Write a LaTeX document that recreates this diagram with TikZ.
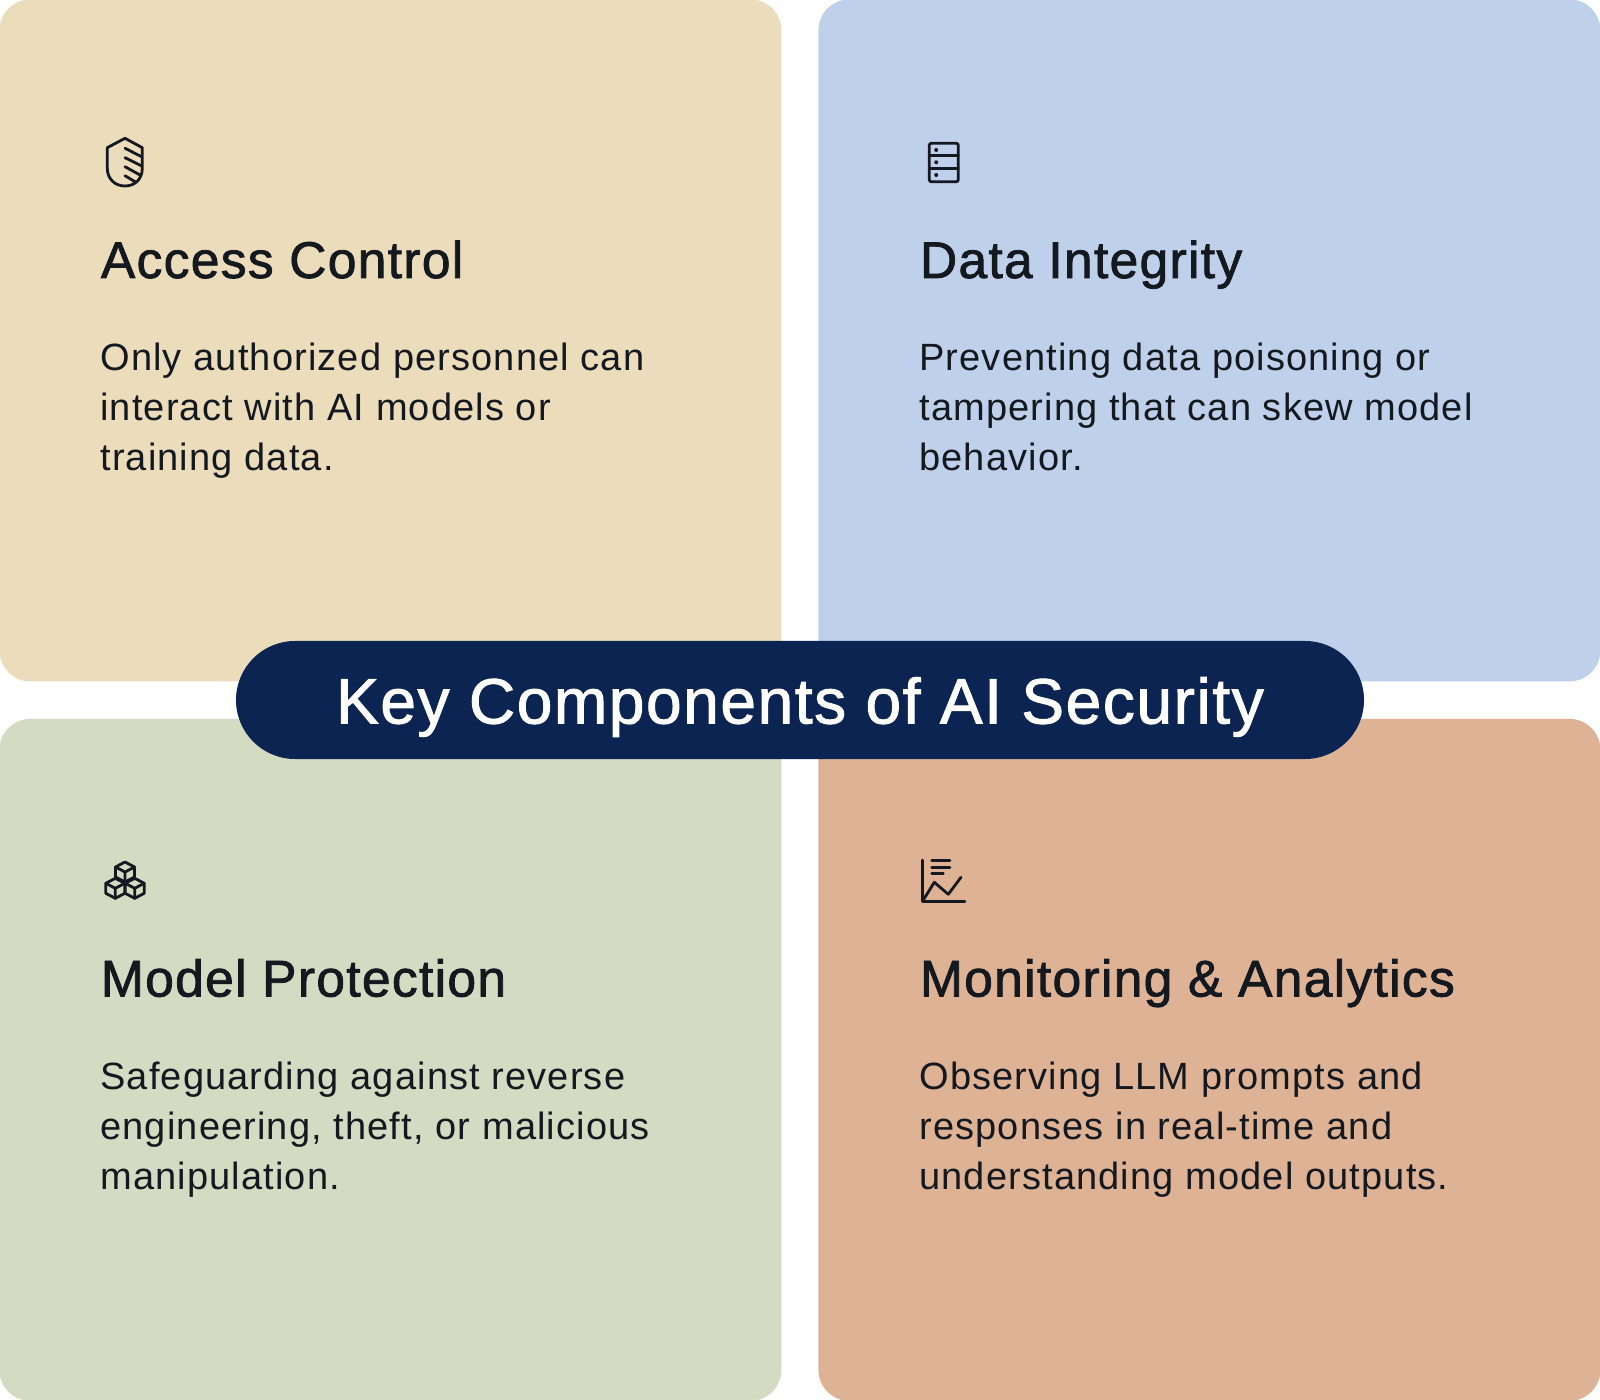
\documentclass[tikz,border=0pt]{standalone}
\usepackage{fontspec}
\setmainfont{Liberation Sans}
\newfontfamily\bodyf[LetterSpace=3.0]{Liberation Sans}
\newfontfamily\headf[LetterSpace=2.5,FakeBold=1.5]{Liberation Sans}
\newfontfamily\titlef[LetterSpace=2.5,FakeBold=1.5]{Liberation Sans}
\definecolor{cardA}{HTML}{EBDCBB}
\definecolor{cardB}{HTML}{BFD0EA}
\definecolor{cardC}{HTML}{D3DBC3}
\definecolor{cardD}{HTML}{DEB295}
\definecolor{navy}{HTML}{0C2452}
\definecolor{ink}{HTML}{14181F}
\tikzset{
 card/.style={rectangle,rounded corners=15.5pt,minimum width=391pt,minimum height=341pt,inner sep=0pt,anchor=north west,draw=none},
 pill/.style={rectangle,rounded corners=29.5pt,fill=navy,minimum width=564pt,minimum height=59pt,inner sep=0pt,anchor=center},
 headtxt/.style={anchor=base west,inner sep=0pt,text=ink,font=\headf\fontsize{25.8}{29}\selectfont},
 bodytxt/.style={anchor=base west,inner sep=0pt,text=ink,font=\bodyf\fontsize{19}{25}\selectfont},
 titletxt/.style={anchor=base,inner sep=0pt,text=white,font=\titlef\fontsize{32}{38}\selectfont},
 icon/.style={draw=ink,line width=1.4pt,line join=round,line cap=round,fill=none},
}
\begin{document}
\begin{tikzpicture}[x=0.5pt,y=-0.5pt]
\useasboundingbox (0,0) rectangle (1600,1400);
\node[card,fill=cardA] (a) at (-1,-1) {};
\node[card,fill=cardB] (b) at (818,-1) {};
\node[card,fill=cardC] (c) at (-1,718.5) {};
\node[card,fill=cardD] (d) at (818,718.5) {};
\node[pill] (p) at (800,700) {};
\node[titletxt] (t) at (800,723.5) {Key Components of AI Security};
% Access Control
\draw[icon] (125,138.3) -- (107.3,147.7) -- (107.3,168.3) .. controls (107.3,179) and (115,186) .. (125,186) .. controls (135,186) and (142.3,179) .. (142.3,168.3) -- (142.3,147.7) -- cycle;
\draw[icon] (125,148.3) -- (141.7,156.7) (125,157.7) -- (141.7,166) (125,166.7) -- (140,175) (125,175.7) -- (135,181.7);
\node[headtxt] (ah) at (100.5,278) {Access Control};
\node[bodytxt] (a1) at (100,370.5) {Only authorized personnel can};
\node[bodytxt] (a2) at (100,420.5) {interact with AI models or};
\node[bodytxt] (a3) at (100,470.5) {training data.};
% Data Integrity
\draw[icon,rounded corners=1pt] (929.3,143.3) rectangle (958.3,181.7);
\draw[icon] (929.3,155.7) -- (958.3,155.7) (929.3,168.3) -- (958.3,168.3);
\fill[ink] (936.2,150) circle (2) (936.2,162.3) circle (2) (936.2,175) circle (2);
\node[headtxt] (bh) at (919.5,278) {Data Integrity};
\node[bodytxt] (b1) at (919,370.5) {Preventing data poisoning or};
\node[bodytxt] (b2) at (919,420.5) {tampering that can skew model};
\node[bodytxt] (b3) at (919,470.5) {behavior.};
% Model Protection
\foreach \cx/\cy in {125/872,115.3/888.3,134.7/888.3}{
 \draw[icon] (\cx,\cy-10) -- (\cx+9.5,\cy-5) -- (\cx+9.5,\cy+5) -- (\cx,\cy+10) -- (\cx-9.5,\cy+5) -- (\cx-9.5,\cy-5) -- cycle;
 \draw[icon] (\cx-9.5,\cy-5) -- (\cx,\cy) -- (\cx+9.5,\cy-5) (\cx,\cy) -- (\cx,\cy+10);
}
\node[headtxt] (ch) at (100.5,996.5) {Model Protection};
\node[bodytxt] (c1) at (100,1089) {Safeguarding against reverse};
\node[bodytxt] (c2) at (100,1139) {engineering, theft, or malicious};
\node[bodytxt] (c3) at (100,1189) {manipulation.};
% Monitoring
\draw[icon] (922.7,860) -- (922.7,901.7) -- (965,901.7);
\draw[icon] (931.7,860.7) -- (950,860.7) (931.7,867.3) -- (950,867.3) (931.7,873.3) -- (943.3,873.3);
\draw[icon] (923.3,900) -- (934.3,882.3) -- (948.3,894.3) -- (961,877.3);
\node[headtxt] (dh) at (919.5,996.5) {Monitoring \& Analytics};
\node[bodytxt] (d1) at (919,1089) {Observing LLM prompts and};
\node[bodytxt] (d2) at (919,1139) {responses in real-time and};
\node[bodytxt] (d3) at (919,1189) {understanding model outputs.};
\end{tikzpicture}
\end{document}
